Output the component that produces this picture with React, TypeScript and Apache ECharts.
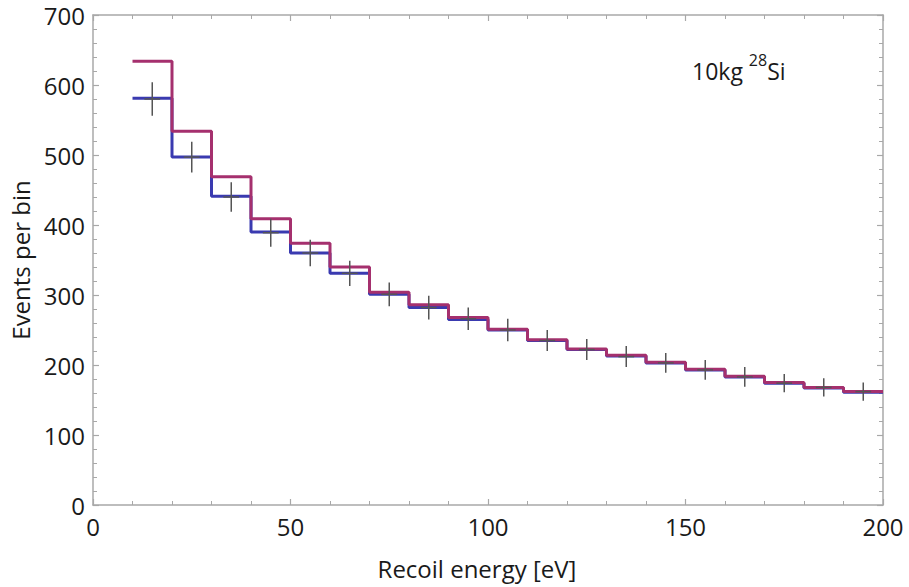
import React, { useEffect, useRef } from "react";
import * as echarts from "echarts";

const binEdges = [10, 20, 30, 40, 50, 60, 70, 80, 90, 100, 110, 120, 130, 140, 150, 160, 170, 180, 190, 200];
const totalCounts = [634, 534, 469, 409, 374, 340, 304, 286, 268, 251, 236, 223, 214, 204, 194, 184, 175, 168, 162];
const signalCounts = [581, 497, 441, 390, 360, 331, 301, 282, 265, 250, 235, 222, 213, 203, 193, 183, 174, 167, 161];
const binCenters = [15, 25, 35, 45, 55, 65, 75, 85, 95, 105, 115, 125, 135, 145, 155, 165, 175, 185, 195];
const observed = [580, 497, 440, 389, 360, 331, 301, 282, 266, 250, 235, 222, 212, 203, 193, 183, 174, 168, 162];
const errors = [24, 22, 21, 20, 19, 18, 17, 17, 16, 16, 15, 15, 15, 14, 14, 14, 13, 13, 13];

const FONT = "'Open Sans', 'DejaVu Sans', sans-serif";
const AXIS_COLOR = "#a8a8a8";
const TEXT_COLOR = "#1a1a1a";

function stepData(vals: number[]) {
  const d: number[][] = vals.map((v, i) => [binEdges[i], v]);
  d.push([binEdges[binEdges.length - 1], vals[vals.length - 1]]);
  return d;
}

export default function App() {
  const ref = useRef<HTMLDivElement>(null);
  useEffect(() => {
    if (!ref.current) return;
    const chart = echarts.init(ref.current, null, { renderer: "svg" });
    const axisCommon = {
      type: "value" as const,
      axisLine: { show: true, onZero: false, lineStyle: { color: AXIS_COLOR, width: 1.5 } },
      axisTick: { show: true, inside: true, length: 6, lineStyle: { color: AXIS_COLOR, width: 1.2 } },
      minorTick: { show: true, splitNumber: 5, length: 4, lineStyle: { color: AXIS_COLOR, width: 1 } },
      splitLine: { show: false },
      minorSplitLine: { show: false },
    };
    const labelStyle = { color: TEXT_COLOR, fontSize: 24, fontFamily: FONT };
    chart.setOption({
      animation: false,
      backgroundColor: "#ffffff",
      grid: { left: 92, right: 26, top: 15, bottom: 82, containLabel: false },
      xAxis: [
        {
          ...axisCommon,
          min: 0,
          max: 200,
          interval: 50,
          position: "bottom",
          axisLabel: { ...labelStyle, margin: 9 },
          name: "Recoil energy [eV]",
          nameLocation: "middle",
          nameGap: 51,
          nameTextStyle: { color: TEXT_COLOR, fontSize: 24, fontFamily: FONT, padding: [0, 22, 0, 0] },
        },
        {
          ...axisCommon,
          min: 0,
          max: 200,
          interval: 50,
          position: "top",
          axisLabel: { show: false },
        },
      ],
      yAxis: [
        {
          ...axisCommon,
          min: 0,
          max: 700,
          interval: 100,
          position: "left",
          axisLabel: { ...labelStyle, margin: 8 },
          name: "Events per bin",
          nameLocation: "middle",
          nameGap: 61,
          nameTextStyle: { color: TEXT_COLOR, fontSize: 24, fontFamily: FONT },
        },
        {
          ...axisCommon,
          min: 0,
          max: 700,
          interval: 100,
          position: "right",
          axisLabel: { show: false },
        },
      ],
      graphic: [
        {
          type: "text",
          left: 692,
          top: 52,
          style: {
            text: "{a|10kg }{b|28}{a|Si}",
            rich: {
              a: { fontSize: 23, fontFamily: FONT, fill: TEXT_COLOR, color: TEXT_COLOR, verticalAlign: "bottom", lineHeight: 30 },
              b: { fontSize: 16, fontFamily: FONT, fill: TEXT_COLOR, color: TEXT_COLOR, verticalAlign: "top", lineHeight: 30, padding: [0, 0, 11, 0] },
            },
          },
        },
      ],
      series: [
        {
          type: "line",
          step: "end",
          data: stepData(signalCounts),
          showSymbol: false,
          symbol: "none",
          lineStyle: { color: "#3a3ab0", width: 3 },
          z: 2,
        },
        {
          type: "line",
          step: "end",
          data: stepData(totalCounts),
          showSymbol: false,
          symbol: "none",
          lineStyle: { color: "#a5306e", width: 3 },
          z: 3,
        },
        {
          type: "custom",
          data: binCenters.map((c, i) => [c, observed[i], errors[i]]),
          encode: { x: 0, y: 1 },
          z: 4,
          renderItem: (params: any, api: any) => {
            const x = api.value(0);
            const y = api.value(1);
            const e = api.value(2);
            const top = api.coord([x, y + e]);
            const bot = api.coord([x, y - e]);
            const l = api.coord([x - 2, y]);
            const r = api.coord([x + 2, y]);
            const st = { stroke: "#555555", lineWidth: 1.5 };
            return {
              type: "group",
              children: [
                { type: "line", shape: { x1: top[0], y1: top[1], x2: bot[0], y2: bot[1] }, style: st },
                { type: "line", shape: { x1: l[0], y1: l[1], x2: r[0], y2: r[1] }, style: st },
              ],
            };
          },
        },
      ],
    });
    return () => chart.dispose();
  }, []);
  return <div ref={ref} style={{ width: 909, height: 587, position: "absolute", left: 0, top: 0 }} />;
}
